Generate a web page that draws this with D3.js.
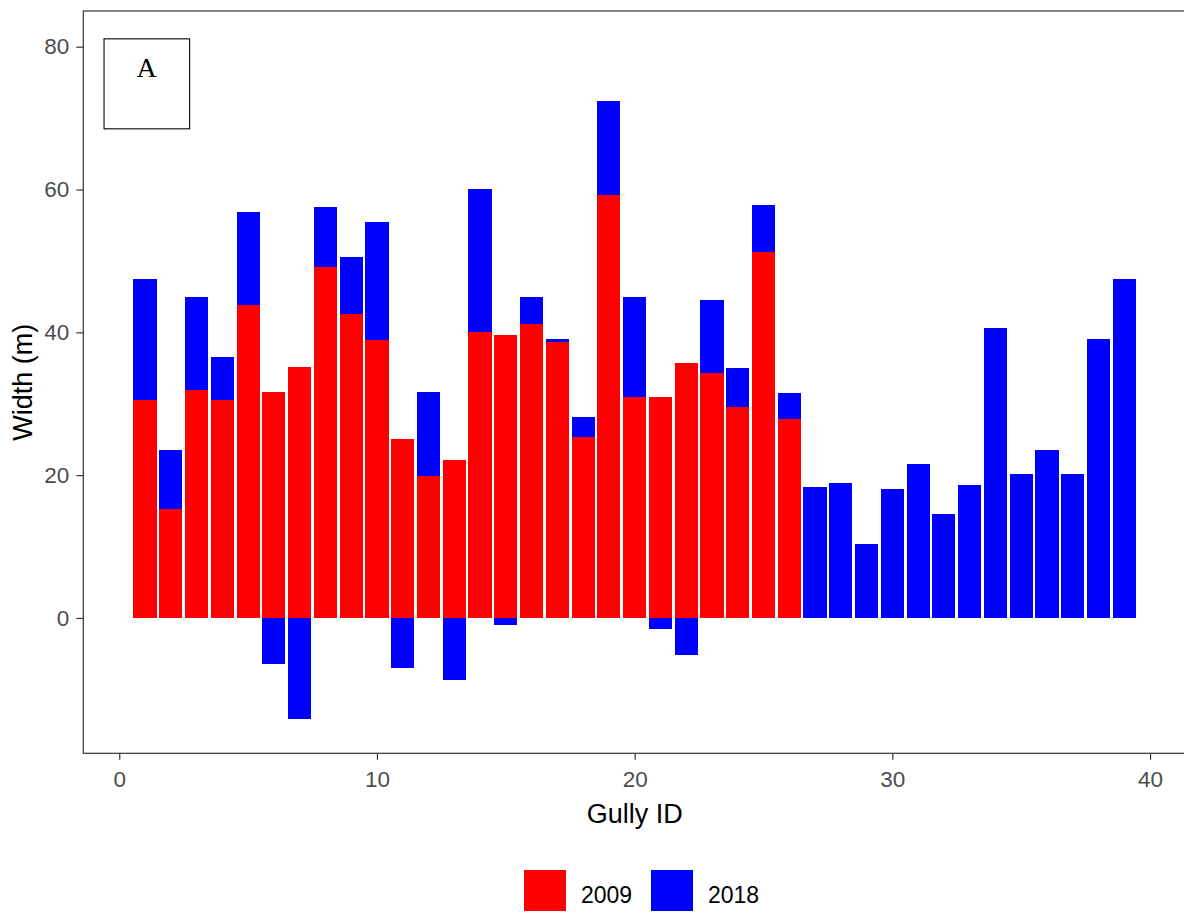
<!DOCTYPE html>
<html lang="en">
<head>
  <meta charset="UTF-8">
  <title>Gully width 2009 / 2018</title>
  <script src="https://d3js.org/d3.v7.min.js"></script>
  <style>
    body { margin: 0; background: #fff; }
    svg { display: block; }
  </style>
</head>
<body>
  <svg id="chart" width="1184" height="914"></svg>

  <script>
    // gully ids and widths
    const gullyIds = [1, 2, 3, 4, 5, 6, 7, 8, 9, 10, 11, 12, 13, 14, 15, 16, 17, 18, 19, 20,
                      21, 22, 23, 24, 25, 26, 27, 28, 29, 30, 31, 32, 33, 34, 35, 36, 37, 38, 39];
    const width2009 = [30.5, 15.2, 31.9, 30.5, 43.8, 31.6, 35.2, 49.2, 42.5, 38.9,
                       25.0, 19.9, 22.1, 40.0, 39.6, 41.2, 38.7, 25.3, 59.3, 31.0,
                       31.0, 35.7, 34.3, 29.5, 51.2, 27.8,
                       null, null, null, null, null, null, null, null, null, null, null, null, null];
    const width2018 = [16.9, 8.3, 13.1, 6.0, 13.1, -6.4, -14.1, 8.3, 8.0, 16.6,
                       -7.0, 11.7, -8.7, 20.1, -1.0, 3.8, 0.3, 2.8, 13.1, 14.0,
                       -1.5, -5.2, 10.2, 5.5, 6.6, 3.7,
                       18.3, 18.9, 10.3, 18.0, 21.5, 14.5, 18.6, 40.6, 20.1, 23.5, 20.1, 39.0, 47.4];
    const years = ['2009', '2018'];
    const yearColors = ['#ff0000', '#0000ff'];
    const xTicks = [0, 10, 20, 30, 40];
    const yTicks = [0, 20, 40, 60, 80];

    const svg = d3.select('#chart');
    const panel = { left: 83.3, top: 11, right: 1186, bottom: 753.3 };

    const x = d3.scaleLinear().domain([-1.395, 41.395]).range([panel.left, panel.right]);
    const y = d3.scaleLinear().domain([-18.95, 85]).range([panel.bottom, panel.top]);
    const color = d3.scaleOrdinal().domain(years).range(yearColors);

    // table for the stack
    const rows = gullyIds.map((id, i) => ({
      id: id,
      '2009': width2009[i] == null ? 0 : width2009[i],
      '2018': width2018[i] == null ? 0 : width2018[i]
    }));

    const series = d3.stack()
      .keys(years)
      .offset(d3.stackOffsetDiverging)(rows);

    const barW = 0.9;

    // bars
    svg.append('g')
      .attr('shape-rendering', 'crispEdges')
      .selectAll('g')
      .data(series)
      .join('g')
        .attr('fill', d => color(d.key))
      .selectAll('rect')
      .data(d => d.filter(s => s[1] !== s[0]))
      .join('rect')
        .attr('x', d => x(d.data.id - barW / 2))
        .attr('width', d => x(d.data.id + barW / 2) - x(d.data.id - barW / 2))
        .attr('y', d => y(Math.max(d[0], d[1])))
        .attr('height', d => Math.abs(y(d[0]) - y(d[1])));

    // panel frame (right side runs off the page)
    svg.append('rect')
      .attr('x', panel.left)
      .attr('y', panel.top)
      .attr('width', panel.right - panel.left)
      .attr('height', panel.bottom - panel.top)
      .attr('fill', 'none')
      .attr('stroke', '#333')
      .attr('stroke-width', 1.2);

    // axes
    const xAxis = svg.append('g')
      .attr('transform', `translate(0,${panel.bottom})`)
      .call(d3.axisBottom(x).tickValues(xTicks).tickSize(6.5).tickPadding(11.5));
    const yAxis = svg.append('g')
      .attr('transform', `translate(${panel.left},0)`)
      .call(d3.axisLeft(y).tickValues(yTicks).tickSize(7).tickPadding(7));

    [xAxis, yAxis].forEach(a => {
      a.select('.domain').remove();
      a.selectAll('.tick line').attr('stroke', '#333').attr('stroke-width', 1.2);
      a.selectAll('.tick text')
        .attr('fill', '#4d4d4d')
        .style('font-family', '"Liberation Sans", Arial, sans-serif')
        .style('font-size', '22.5px');
    });

    // axis titles
    svg.append('text')
      .attr('x', (panel.left + panel.right) / 2)
      .attr('y', 823)
      .attr('text-anchor', 'middle')
      .style('font-family', '"Liberation Sans", Arial, sans-serif')
      .style('font-size', '27px')
      .text('Gully ID');

    svg.append('text')
      .attr('transform', `translate(32,${(panel.top + panel.bottom) / 2}) rotate(-90)`)
      .attr('text-anchor', 'middle')
      .style('font-family', '"Liberation Sans", Arial, sans-serif')
      .style('font-size', '27px')
      .text('Width (m)');

    // panel label box
    svg.append('rect')
      .attr('x', x(-0.59))
      .attr('y', y(81.1))
      .attr('width', x(2.73) - x(-0.59))
      .attr('height', y(68.5) - y(81.1))
      .attr('fill', 'none')
      .attr('stroke', '#000')
      .attr('stroke-width', 1.1);
    svg.append('text')
      .attr('x', x(1.06))
      .attr('y', y(75.7))
      .attr('text-anchor', 'middle')
      .style('font-family', '"Liberation Serif", "Times New Roman", serif')
      .style('font-size', '28px')
      .text('A');

    // legend
    const legend = svg.append('g').attr('transform', 'translate(524,870)');
    const legendX = [0, 127];
    years.forEach((yr, i) => {
      legend.append('rect')
        .attr('x', legendX[i])
        .attr('y', 0)
        .attr('width', 42)
        .attr('height', 41)
        .attr('fill', color(yr));
      legend.append('text')
        .attr('x', legendX[i] + 57)
        .attr('y', 32.5)
        .style('font-family', '"Liberation Sans", Arial, sans-serif')
        .style('font-size', '23px')
        .text(yr);
    });
  </script>
</body>
</html>
